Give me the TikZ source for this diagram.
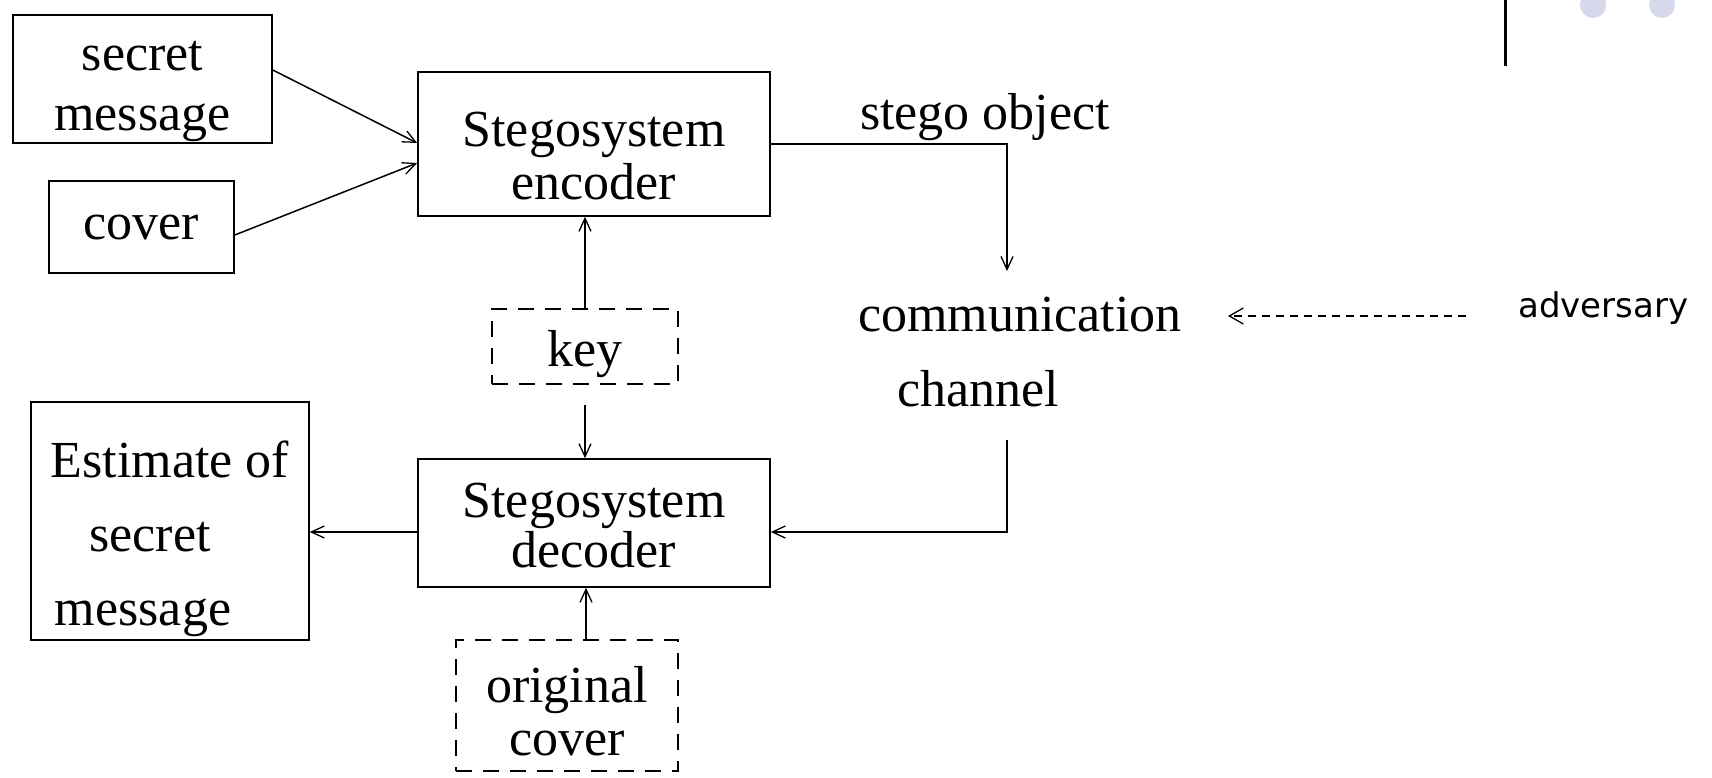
\documentclass[tikz,border=0pt]{standalone}
\usepackage{fontspec}
\setmainfont{Liberation Serif}
\newfontfamily\advfont{DejaVu Sans}
\usetikzlibrary{arrows.meta}
\definecolor{dotcol}{RGB}{216,216,236}
\tikzset{
  box/.style={draw, line width=1.6pt, inner sep=0pt},
  dbox/.style={box, dash pattern=on 16pt off 11pt},
  btext/.style={inner sep=0pt, align=center, font=\fontsize{52}{#1}\selectfont},
  btext/.default=58,
  txt/.style={inner sep=0pt, anchor=base, font=\fontsize{52}{58}\selectfont},
  conn/.style={line width=1.5pt, -{Straight Barb[length=13pt,width=12pt,line width=1.3pt]}},
  advarrow/.style={line width=1.3pt, dash pattern=on 8pt off 6pt,
    -{Straight Barb[length=14pt,width=16pt,line width=1.3pt]}},
}
\begin{document}
\begin{tikzpicture}[x=1pt,y=-1pt]
\useasboundingbox (0,0) rectangle (1712,777);
% top-right decoration
\draw[line width=3pt] (1505,0) -- (1505,66);
\fill[dotcol] (1593,5) circle (13);
\fill[dotcol] (1662,5) circle (13);
% boxes
\node[box, minimum width=259pt, minimum height=128pt,
  label={[btext=60, yshift=-12pt]center:{secret\\message}}] (secret) at (142.5,79) {};
\node[box, minimum width=185pt, minimum height=92pt,
  label={[btext]center:cover}] (cover) at (141.5,227) {};
\node[box, minimum width=352pt, minimum height=144pt,
  label={[btext=53, yshift=-12.5pt]center:{Stegosystem\\encoder}}] (enc) at (594,144) {};
\node[dbox, minimum width=186pt, minimum height=75pt,
  label={[btext, yshift=-7.5pt]center:key}] (key) at (585,346.5) {};
\node[box, minimum width=352pt, minimum height=128pt,
  label={[btext=50, yshift=-3pt]center:{Stegosystem\\decoder}}] (dec) at (594,523) {};
\node[box, minimum width=278pt, minimum height=238pt,
  label={[btext=74, yshift=-17.5pt]center:{Estimate of\\secret\rule{40pt}{0pt}\\message\rule{54pt}{0pt}}}] (est) at (170,521) {};
\node[dbox, minimum width=222pt, minimum height=131pt,
  label={[btext=53, yshift=-6pt]center:{original\\cover}}] (orig) at (567,705.5) {};
% free texts
\node[txt] (stego) at (985,129) {stego object};
\node[txt] (comm) at (1020,331) {communication};
\node[txt] (chan) at (978,406) {channel};
\node[inner sep=0pt, anchor=base west, font=\advfont\fontsize{34}{40}\selectfont] (adv) at (1518,317) {adversary};
% coordinates
\coordinate (cin) at (1007,271);
\coordinate (cout) at (1007,440);
\coordinate (advstart) at (1466,316);
\coordinate (advend) at (1228,316);
% connectors
\draw[conn] ([yshift=9pt]secret.east) -- ([yshift=1pt]enc.west);
\draw[conn] ([yshift=-8pt]cover.east) -- ([yshift=-19pt]enc.west);
\draw[conn] (key.north) -- (key.north |- enc.south);
\draw[conn] ([yshift=-20pt]key.south) -- (key.south |- dec.north);
\draw[conn] ([xshift=19pt]orig.north) -- ([xshift=19pt]orig.north |- dec.south);
\draw[conn] (enc.east) -| (cin);
\draw[conn] (cout) |- ([yshift=-9pt]dec.east);
\draw[conn] ([yshift=-9pt]dec.west) -- ([yshift=-11pt]est.east);
\draw[advarrow] (advstart) -- (advend);
\end{tikzpicture}
\end{document}
